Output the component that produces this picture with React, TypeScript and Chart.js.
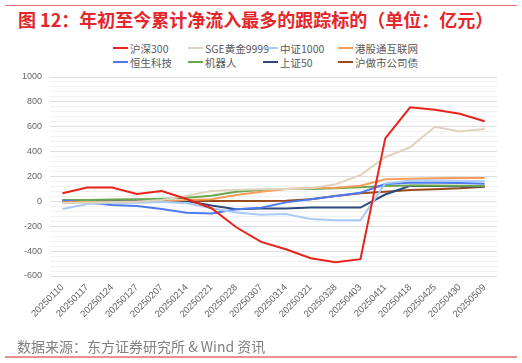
import React, { useEffect, useRef } from "react";
import { Chart, registerables } from "chart.js";

Chart.register(...registerables);

const categories = [
  "20250110", "20250117", "20250124", "20250127", "20250207", "20250214",
  "20250221", "20250228", "20250307", "20250314", "20250321", "20250328",
  "20250403", "20250411", "20250418", "20250425", "20250430", "20250509",
];

const hs300 = [65, 112, 112, 60, 84, 19, -55, -208, -326, -385, -457, -490, -465, 507, 756, 737, 705, 644];
const sgeGold = [-15, -10, -8, -3, 11, 46, 84, 92, 97, 100, 105, 137, 212, 355, 435, 600, 562, 582];
const zz1000 = [-62, -22, -12, -12, -5, -15, -56, -90, -107, -101, -141, -152, -152, 145, 165, 168, 166, 162];
const hkInternet = [-8, -6, -5, -4, 0, 11, 17, 51, 78, 100, 108, 110, 126, 178, 181, 185, 188, 188];
const hsTech = [5, -10, -29, -37, -62, -92, -98, -64, -52, -8, 17, 43, 70, 140, 150, 150, 148, 142];
const robot = [10, 12, 15, 17, 22, 30, 45, 78, 92, 100, 100, 105, 113, 124, 127, 127, 126, 124];
const sz50 = [10, 3, 2, 2, 4, 3, -34, -64, -58, -57, -50, -50, -50, 55, 125, 124, 122, 120];
const shCorpBond = [null, null, -8, -5, -3, 3, 3, 3, 3, 6, 17, 43, 65, 78, 92, 97, 105, 118];

const yMin = -600;
const yMax = 1000;
const yMajorStep = 200;
const yMinorStep = 40;

const seriesNames = ["沪深300", "SGE黄金9999", "中证1000", "港股通互联网", "恒生科技", "机器人", "上证50", "沪做市公司债"];
const seriesData = [hs300, sgeGold, zz1000, hkInternet, hsTech, robot, sz50, shCorpBond];
const seriesColors = ["#e8231c", "#ded3bd", "#a9caf5", "#f89d57", "#4e79f2", "#6aa84f", "#2c4a7c", "#9a4a1c"];

const title = "图 12：年初至今累计净流入最多的跟踪标的（单位：亿元）";
const source = "数据来源：东方证券研究所 & Wind 资讯";

export default function App() {
  const ref = useRef<HTMLCanvasElement | null>(null);

  useEffect(() => {
    if (!ref.current) return;
    const chart = new Chart(ref.current, {
      type: "line",
      data: {
        labels: categories,
        datasets: seriesNames.map((name, i) => ({
          label: name,
          data: seriesData[i],
          borderColor: seriesColors[i],
          backgroundColor: seriesColors[i],
          borderWidth: 2,
          pointRadius: 0,
          tension: 0,
          spanGaps: false,
        })),
      },
      options: {
        animation: false,
        responsive: false,
        maintainAspectRatio: false,
        layout: { padding: { top: 7, bottom: 14, left: 0, right: 25 } },
        plugins: {
          legend: { display: false },
          tooltip: { enabled: false },
        },
        scales: {
          x: {
            offset: true,
            grid: { display: false, drawTicks: false },
            border: { display: false },
            ticks: {
              maxRotation: 45,
              minRotation: 45,
              autoSkip: false,
              padding: 6,
              color: "#666666",
              font: { family: "'Liberation Sans', Arial, sans-serif", size: 9.5 },
            },
            afterFit: (s: any) => {
              s.height = 60;
            },
          },
          y: {
            min: yMin,
            max: yMax,
            border: { display: false },
            grid: {
              drawTicks: false,
              color: (ctx: any) =>
                ctx.tick && ctx.tick.value % yMajorStep === 0 ? "#dedede" : "#f1f1f1",
              lineWidth: 1,
            },
            ticks: {
              stepSize: yMinorStep,
              maxTicksLimit: 1000,
              autoSkip: false,
              padding: 8,
              color: "#666666",
              font: { family: "'Liberation Sans', Arial, sans-serif", size: 9 },
              callback: (v: any) => (Number(v) % yMajorStep === 0 ? String(v) : ""),
            },
            afterFit: (s: any) => {
              s.width = 50;
              s.paddingTop = 0;
              s.paddingBottom = 0;
            },
          },
        },
      },
    });
    return () => chart.destroy();
  }, []);

  const legendCols = [113, 188, 263, 338];
  const legendRows = [48, 62];

  return (
    <div
      style={{
        position: "fixed",
        left: 0,
        top: 0,
        width: 522,
        height: 363,
        background: "#ffffff",
        fontFamily: "'Noto Sans CJK SC', 'Liberation Sans', sans-serif",
      }}
    >
      <div style={{ position: "absolute", left: 5, top: 5, width: 512, height: 1, background: "#e57373" }} />
      <div
        style={{
          position: "absolute",
          left: 18,
          top: 7,
          fontSize: 18,
          fontWeight: 700,
          color: "#e5262a",
          whiteSpace: "nowrap",
          lineHeight: "24px",
        }}
      >
        {title}
      </div>
      {seriesNames.map((name, i) => {
        const col = i % 4;
        const row = Math.floor(i / 4);
        return (
          <div
            key={name}
            style={{
              position: "absolute",
              left: legendCols[col],
              top: legendRows[row] - 7,
              height: 14,
              display: "flex",
              alignItems: "center",
              whiteSpace: "nowrap",
              fontSize: 10.5,
              color: "#595959",
              fontFamily: "'Noto Sans CJK SC', 'Liberation Sans', sans-serif",
            }}
          >
            <span style={{ display: "inline-block", width: 15, height: 2, background: seriesColors[i], marginRight: 2 }} />
            <span>{name}</span>
          </div>
        );
      })}
      <canvas
        ref={ref}
        width={522}
        height={280}
        style={{ position: "absolute", left: 0, top: 70, width: 522, height: 280 }}
      />
      <div
        style={{
          position: "absolute",
          left: 17,
          top: 336,
          fontSize: 14,
          color: "#808080",
          whiteSpace: "nowrap",
          lineHeight: "20px",
        }}
      >
        {source}
      </div>
      <div style={{ position: "absolute", left: 5, top: 356, width: 512, height: 1.5, background: "#ec8f8f" }} />
    </div>
  );
}
